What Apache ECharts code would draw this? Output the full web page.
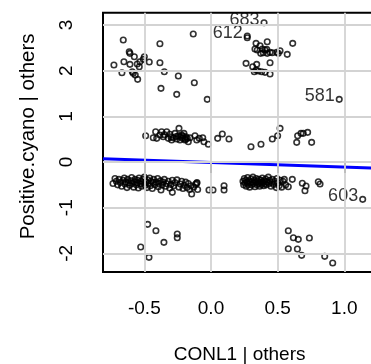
<!DOCTYPE html>
<html><head><meta charset="utf-8">
<script src="https://cdn.jsdelivr.net/npm/echarts@6/dist/echarts.min.js"></script>
<style>html,body{margin:0;padding:0;background:#fff}#c{width:371px;height:364px}</style>
</head><body><div id="c"></div>
<script>
const xTicks = [-0.5, 0, 0.5, 1.0];
const yTicks = [-2, -1, 0, 1, 2, 3];
const xTitle = 'CONL1 | others';
const yTitle = 'Positive.cyano | others';

const upperLeft = [[-0.658,2.671],[-0.383,2.590],[-0.133,2.803],[-0.613,2.415],[-0.608,2.380],[-0.575,2.306],[-0.500,2.306],[-0.508,2.249],[-0.463,2.190],[-0.533,2.196],[-0.653,2.196],[-0.608,2.139],[-0.553,2.146],[-0.538,2.087],[-0.728,2.124],[-0.383,2.174],[-0.668,1.955],[-0.590,1.977],[-0.583,1.942],[-0.568,1.905],[-0.550,1.811],[-0.350,1.977],[-0.245,1.883],[-0.125,1.736],[-0.375,1.614],[-0.257,1.482],[-0.028,1.373]];
const upperRight = [[0.272,2.722],[0.338,2.599],[0.368,2.547],[0.422,2.634],[0.613,2.599],[0.330,2.474],[0.347,2.452],[0.385,2.474],[0.405,2.452],[0.418,2.468],[0.373,2.380],[0.392,2.393],[0.422,2.380],[0.443,2.402],[0.460,2.393],[0.493,2.402],[0.505,2.380],[0.518,2.437],[0.572,2.358],[0.263,2.161],[0.313,2.087],[0.343,2.139],[0.325,1.977],[0.338,2.014],[0.355,1.993],[0.380,1.977],[0.405,1.964],[0.443,1.927],[0.443,2.174]];
const midLeft = [[-0.490,0.576],[-0.433,0.532],[-0.415,0.663],[-0.407,0.519],[-0.383,0.591],[-0.370,0.663],[-0.358,0.554],[-0.332,0.663],[-0.320,0.519],[-0.308,0.607],[-0.295,0.482],[-0.283,0.532],[-0.270,0.628],[-0.257,0.504],[-0.245,0.576],[-0.240,0.738],[-0.233,0.482],[-0.220,0.591],[-0.212,0.519],[-0.203,0.628],[-0.195,0.482],[-0.188,0.554],[-0.178,0.519],[-0.170,0.444],[-0.158,0.532],[-0.120,0.576],[-0.107,0.482],[-0.088,0.519],[-0.062,0.532],[-0.053,0.444],[-0.020,0.388],[-0.26,0.56],[-0.23,0.55],[-0.21,0.57],[-0.19,0.50],[-0.30,0.55],[-0.35,0.60]];
const midRight = [[0.050,0.519],[0.085,0.613],[0.135,0.504],[0.300,0.335],[0.375,0.388],[0.460,0.504],[0.500,0.576],[0.518,0.738],[0.643,0.431],[0.650,0.576],[0.675,0.628],[0.692,0.628],[0.725,0.650],[0.755,0.431]];
const lowLeft = [[-0.735,-0.47],[-0.72,-0.36],[-0.71,-0.42],[-0.70,-0.50],[-0.69,-0.38],[-0.68,-0.45],[-0.67,-0.53],[-0.66,-0.40],[-0.65,-0.35],[-0.645,-0.48],[-0.64,-0.43],[-0.63,-0.56],[-0.625,-0.38],[-0.62,-0.46],[-0.61,-0.51],[-0.60,-0.41],[-0.595,-0.34],[-0.59,-0.47],[-0.58,-0.55],[-0.575,-0.43],[-0.57,-0.38],[-0.56,-0.50],[-0.555,-0.45],[-0.55,-0.40],[-0.545,-0.57],[-0.54,-0.35],[-0.53,-0.48],[-0.525,-0.42],[-0.52,-0.53],[-0.51,-0.38],[-0.505,-0.46],[-0.50,-0.33],[-0.495,-0.51],[-0.49,-0.43],[-0.48,-0.56],[-0.475,-0.39],[-0.47,-0.47],[-0.46,-0.35],[-0.455,-0.52],[-0.45,-0.42],[-0.44,-0.58],[-0.435,-0.45],[-0.43,-0.38],[-0.42,-0.50],[-0.41,-0.44],[-0.40,-0.36],[-0.395,-0.54],[-0.39,-0.47],[-0.38,-0.41],[-0.365,-0.50],[-0.36,-0.44],[-0.35,-0.38],[-0.34,-0.53],[-0.335,-0.47],[-0.32,-0.42],[-0.31,-0.57],[-0.30,-0.49],[-0.29,-0.40],[-0.28,-0.52],[-0.27,-0.45],[-0.255,-0.39],[-0.24,-0.55],[-0.23,-0.48],[-0.22,-0.42],[-0.21,-0.58],[-0.20,-0.51],[-0.19,-0.44],[-0.18,-0.56],[-0.17,-0.47],[-0.16,-0.60],[-0.15,-0.52],[-0.13,-0.55],[-0.115,-0.49],[-0.105,-0.45],[-0.10,-0.60],[-0.375,-0.613],[-0.29,-0.664],[-0.145,-0.70],[-0.107,-0.467],[-0.015,-0.613],[0.015,-0.613],[0.098,-0.519],[0.098,-0.613]];
const lowRight = [[0.24,-0.42],[0.245,-0.50],[0.25,-0.36],[0.255,-0.46],[0.26,-0.40],[0.265,-0.53],[0.27,-0.44],[0.275,-0.34],[0.28,-0.49],[0.285,-0.41],[0.29,-0.55],[0.295,-0.45],[0.30,-0.37],[0.305,-0.50],[0.31,-0.43],[0.315,-0.33],[0.32,-0.47],[0.325,-0.40],[0.33,-0.54],[0.335,-0.44],[0.34,-0.36],[0.345,-0.50],[0.35,-0.42],[0.355,-0.47],[0.36,-0.38],[0.365,-0.53],[0.37,-0.45],[0.375,-0.40],[0.38,-0.49],[0.385,-0.35],[0.39,-0.44],[0.395,-0.52],[0.40,-0.41],[0.405,-0.47],[0.41,-0.37],[0.415,-0.50],[0.42,-0.43],[0.43,-0.33],[0.435,-0.47],[0.44,-0.40],[0.45,-0.53],[0.455,-0.45],[0.46,-0.38],[0.47,-0.49],[0.48,-0.42],[0.49,-0.56],[0.495,-0.36],[0.50,-0.46],[0.51,-0.52],[0.52,-0.40],[0.53,-0.55],[0.54,-0.42],[0.55,-0.38],[0.56,-0.50],[0.58,-0.54],[0.61,-0.379],[0.685,-0.466],[0.713,-0.526],[0.705,-0.628],[0.805,-0.431],[0.818,-0.482]];
const bottom = [[-0.475,-1.364],[-0.413,-1.504],[-0.253,-1.577],[-0.253,-1.657],[-0.353,-1.759],[-0.527,-1.861],[-0.465,-2.087],[0.580,-1.504],[0.618,-1.657],[0.655,-1.693],[0.738,-1.664],[0.580,-1.898],[0.648,-1.905],[0.680,-2.043],[0.853,-2.065],[0.913,-2.211]];
const labeledNames = ['683','612','581','603'];
const labeledPoints = [[0.398,3.050],[0.272,2.759],[0.962,1.373],[1.138,-0.817]];

const lineIntercept = -0.01;
const lineSlope = -0.10;

const X_MIN = -0.81, X_MAX = 1.24, Y_MIN = -2.41, Y_MAX = 3.27;
const FONT = 'Liberation Sans, Arial, Helvetica, sans-serif';

const allPts = [].concat(upperLeft, upperRight, midLeft, midRight, lowLeft, lowRight, bottom);
const labeledData = labeledPoints.map((p, i) => ({
  value: p, name: labeledNames[i],
  label: {show: true, formatter: labeledNames[i], position: 'left', distance: 1, offset: [0, -3],
          fontSize: 18, fontFamily: FONT, color: '#000'}
}));

const chart = echarts.init(document.getElementById('c'), null, {renderer: 'canvas'});
chart.setOption({
  animation: false,
  backgroundColor: '#fff',
  grid: {left: 103, top: 12.7, width: 273.3, height: 259.4, show: true, borderColor: '#000', borderWidth: 2,
         backgroundColor: 'transparent', containLabel: false, outerBoundsMode: 'none'},
  xAxis: {
    type: 'value', min: X_MIN, max: X_MAX,
    axisLine: {show: false},
    splitLine: {show: false},
    axisTick: {show: true, customValues: xTicks, length: 11, inside: false, lineStyle: {color: '#000', width: 2}},
    axisLabel: {customValues: xTicks, formatter: v => v.toFixed(1), fontSize: 19, fontFamily: FONT, color: '#000', margin: 27},
    name: xTitle, nameLocation: 'middle', nameGap: 73,
    nameTextStyle: {fontSize: 19, fontFamily: FONT, color: '#000'}
  },
  yAxis: {
    type: 'value', min: Y_MIN, max: Y_MAX,
    axisLine: {show: false},
    splitLine: {show: false},
    axisTick: {show: true, customValues: yTicks, length: 11, inside: false, lineStyle: {color: '#000', width: 2}},
    axisLabel: {customValues: yTicks, formatter: v => String(v), rotate: 90, fontSize: 19, fontFamily: FONT, color: '#000', margin: 27},
    name: yTitle, nameLocation: 'middle', nameGap: 64,
    nameTextStyle: {fontSize: 20.5, fontFamily: FONT, color: '#000', padding: [0, 0, 0, 12]}
  },
  series: [
    {
      type: 'scatter', data: [], z: 1, silent: true,
      markLine: {
        silent: true, symbol: 'none', animation: false,
        label: {show: false},
        lineStyle: {color: '#d3d3d3', width: 1.8, type: 'solid'},
        data: xTicks.map(v => ({xAxis: v})).concat(yTicks.map(v => ({yAxis: v})))
      }
    },
    {
      type: 'line', z: 2, silent: true, symbol: 'none',
      data: [[X_MIN, lineIntercept + lineSlope * X_MIN], [X_MAX, lineIntercept + lineSlope * X_MAX]],
      lineStyle: {color: '#0000ff', width: 3}
    },
    {
      type: 'scatter', z: 3, symbol: 'circle', symbolSize: 5.5,
      itemStyle: {color: 'rgba(0,0,0,0)', borderColor: '#000', borderWidth: 1.6},
      data: allPts.concat(labeledData)
    }
  ]
});
</script>
</body></html>
